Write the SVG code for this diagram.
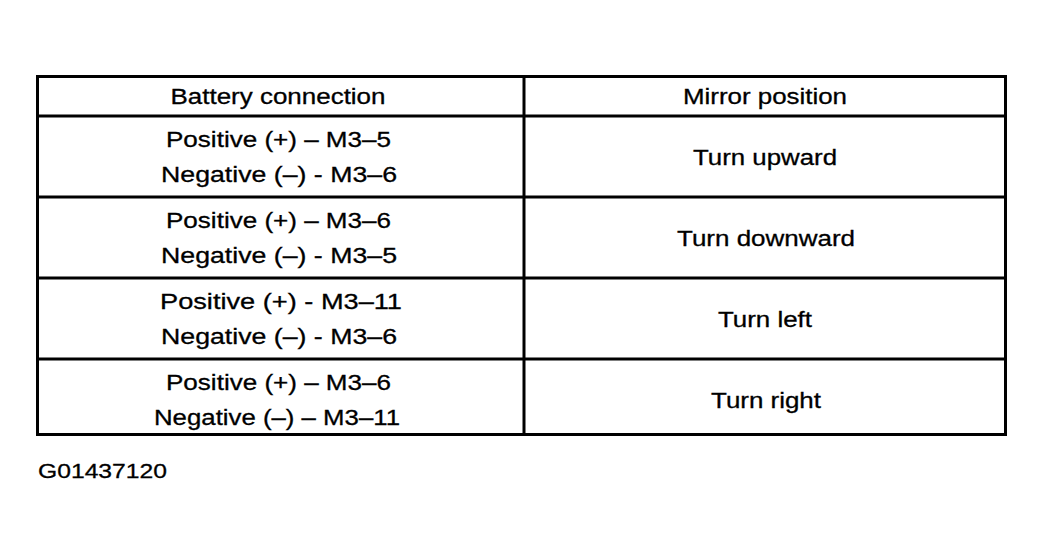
<svg xmlns="http://www.w3.org/2000/svg" width="1044" height="556" viewBox="0 0 1044 556">
<style>
.t{font-family:"Liberation Sans",Arial,sans-serif;font-size:22px;fill:#000;stroke:#000;stroke-width:0.3;text-anchor:middle}
.ln{stroke:#000;stroke-width:3;fill:none}
</style>
<rect width="1044" height="556" fill="#fff"/>
<g id="table-grid">
<rect class="ln" x="37.5" y="76.5" width="968" height="358"/>
<line class="ln" x1="524" y1="76.5" x2="524" y2="434.5"/>
<line class="ln" x1="37.5" y1="116" x2="1005.5" y2="116"/>
<line class="ln" x1="37.5" y1="197" x2="1005.5" y2="197"/>
<line class="ln" x1="37.5" y1="278" x2="1005.5" y2="278"/>
<line class="ln" x1="37.5" y1="359" x2="1005.5" y2="359"/>
</g>
<g id="header">
<text class="t" x="278" y="104" textLength="215" lengthAdjust="spacingAndGlyphs">Battery connection</text>
<text class="t" x="765" y="104" textLength="164" lengthAdjust="spacingAndGlyphs">Mirror position</text>
</g>
<g id="row1">
<text class="t" x="278.5" y="147" textLength="225" lengthAdjust="spacingAndGlyphs">Positive (+) – M3–5</text>
<text class="t" x="279" y="182" textLength="236" lengthAdjust="spacingAndGlyphs">Negative (–) - M3–6</text>
<text class="t" x="765" y="165" textLength="144" lengthAdjust="spacingAndGlyphs">Turn upward</text>
</g>
<g id="row2">
<text class="t" x="278.5" y="228" textLength="225" lengthAdjust="spacingAndGlyphs">Positive (+) – M3–6</text>
<text class="t" x="279" y="263" textLength="236" lengthAdjust="spacingAndGlyphs">Negative (–) - M3–5</text>
<text class="t" x="766" y="246" textLength="178" lengthAdjust="spacingAndGlyphs">Turn downward</text>
</g>
<g id="row3">
<text class="t" x="281" y="309" textLength="242" lengthAdjust="spacingAndGlyphs">Positive (+) - M3–11</text>
<text class="t" x="279" y="344" textLength="236" lengthAdjust="spacingAndGlyphs">Negative (–) - M3–6</text>
<text class="t" x="765" y="327" textLength="94" lengthAdjust="spacingAndGlyphs">Turn left</text>
</g>
<g id="row4">
<text class="t" x="278.5" y="390" textLength="225" lengthAdjust="spacingAndGlyphs">Positive (+) – M3–6</text>
<text class="t" x="277" y="425" textLength="246" lengthAdjust="spacingAndGlyphs">Negative (–) – M3–11</text>
<text class="t" x="766" y="408" textLength="110" lengthAdjust="spacingAndGlyphs">Turn right</text>
</g>
<g id="caption">
<text class="t" x="38" y="478" style="text-anchor:start;font-size:21px" textLength="129" lengthAdjust="spacingAndGlyphs">G01437120</text>
</g>
</svg>
